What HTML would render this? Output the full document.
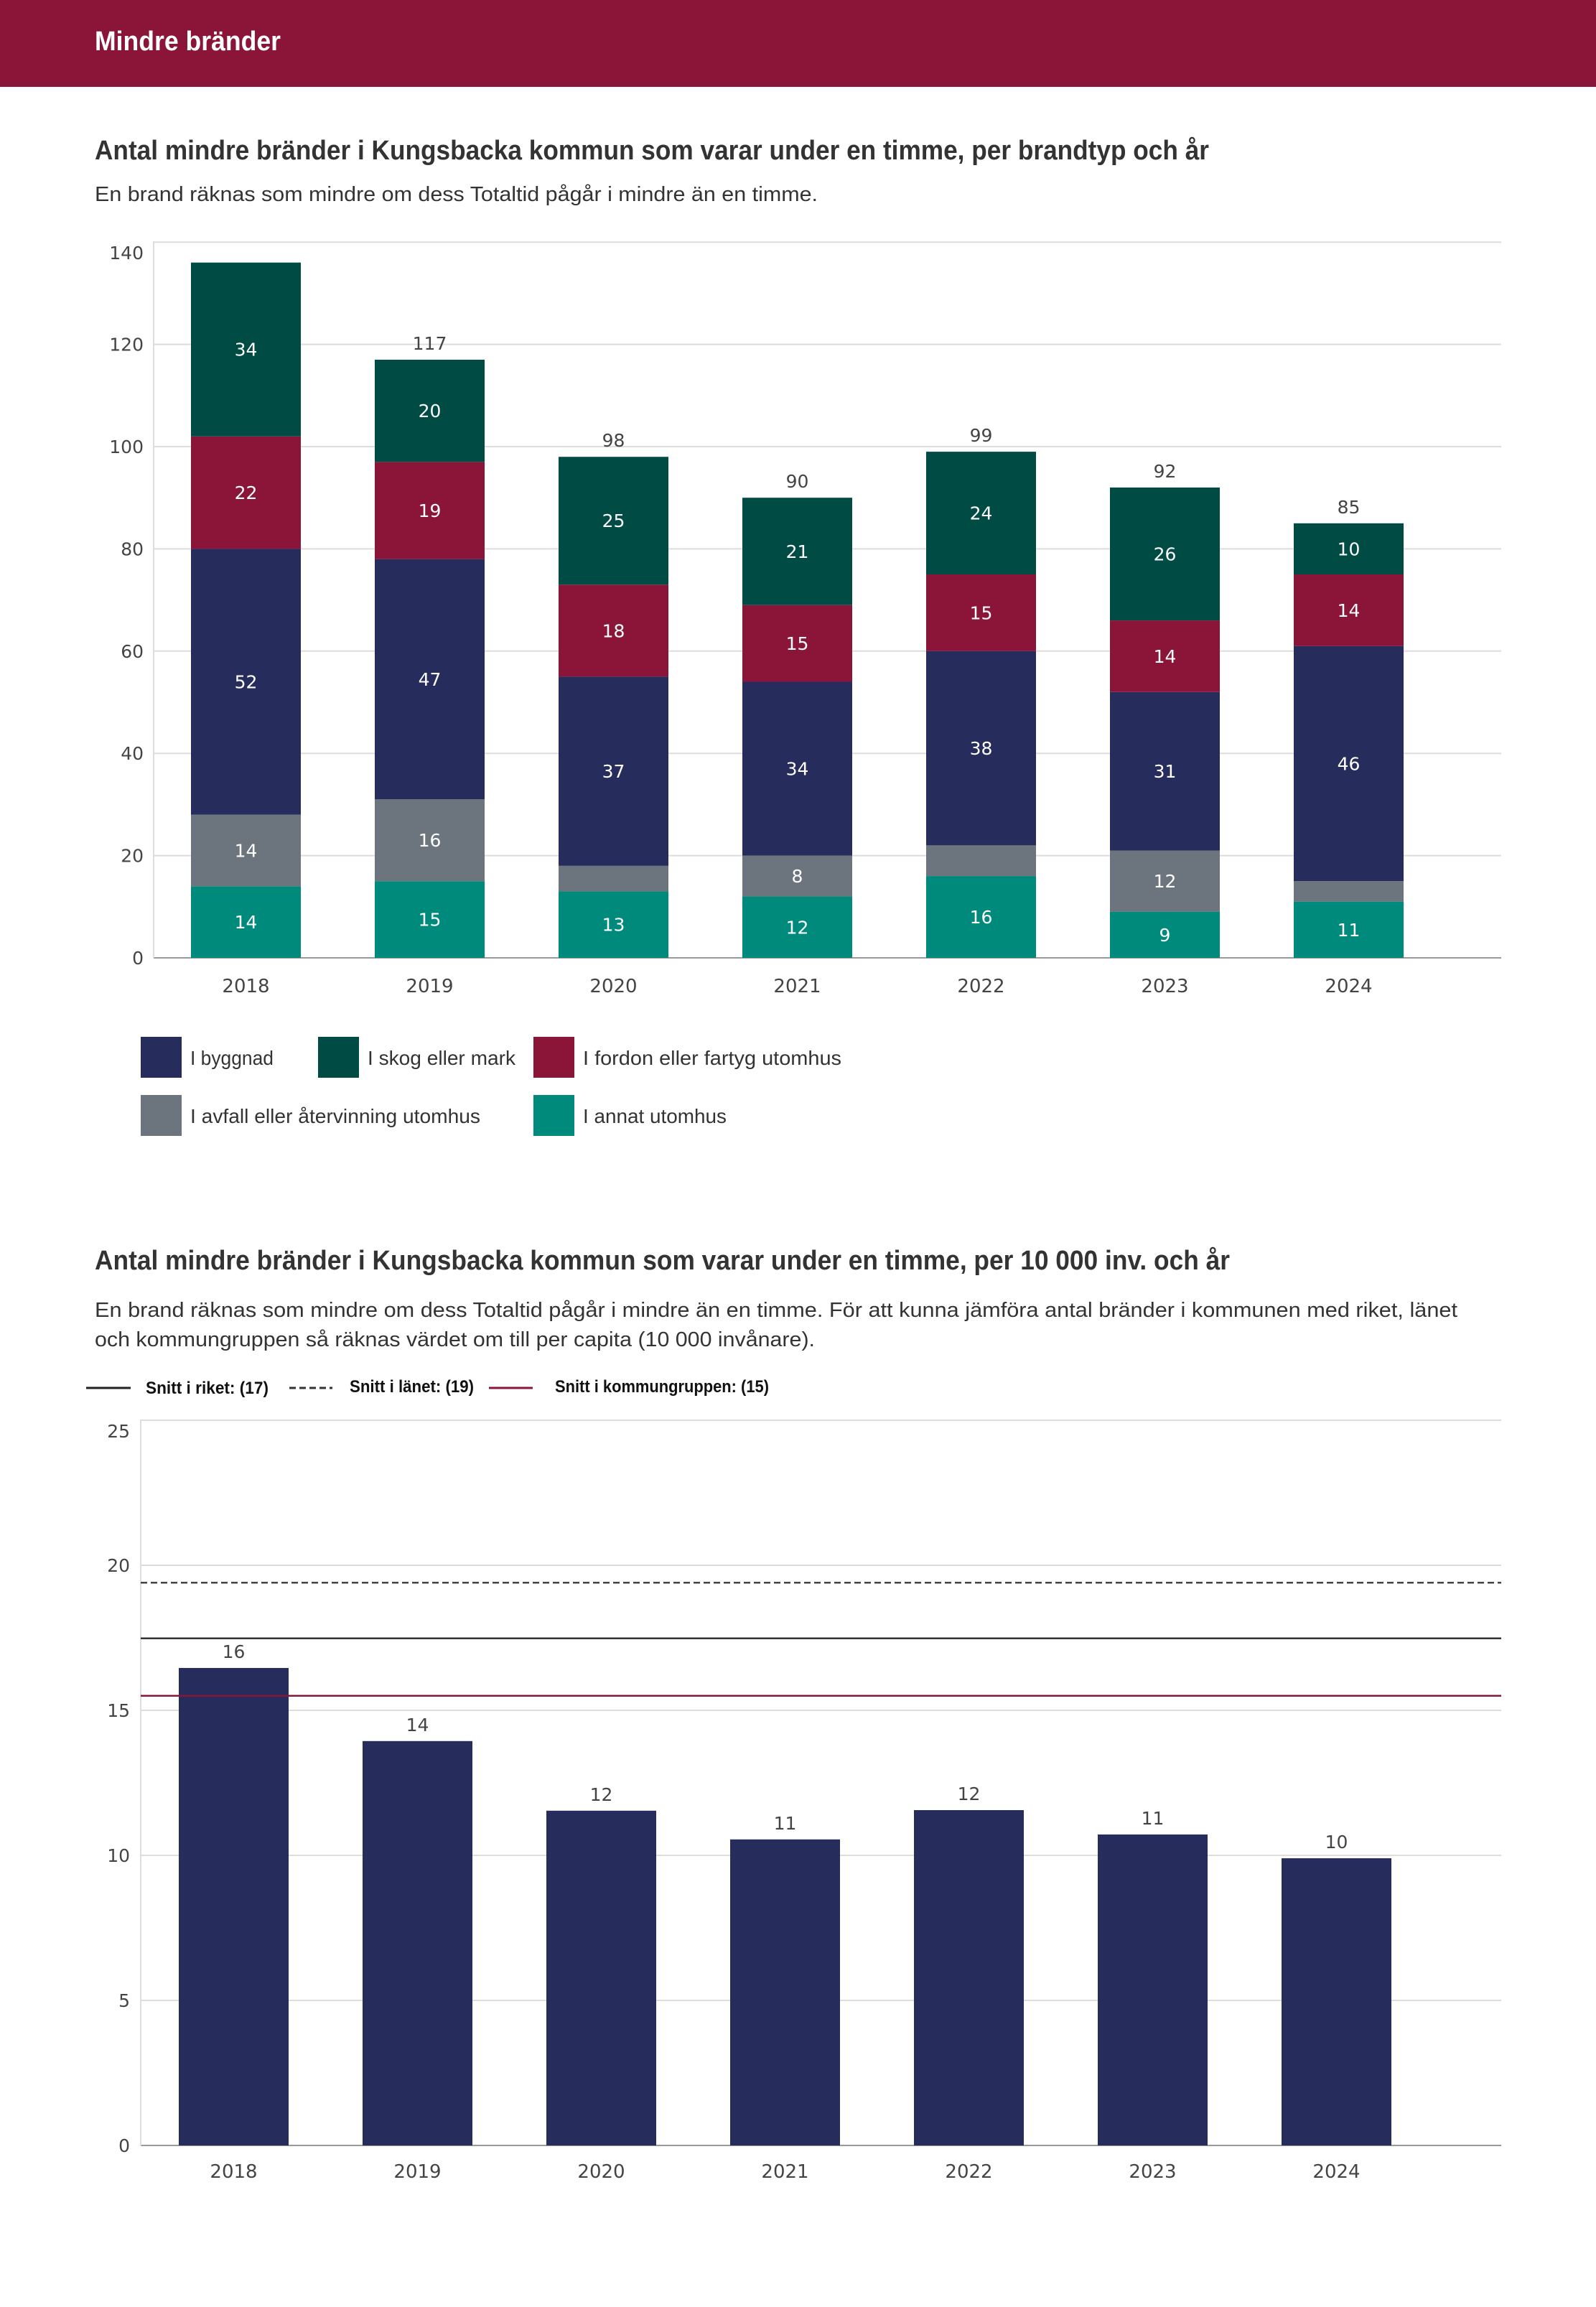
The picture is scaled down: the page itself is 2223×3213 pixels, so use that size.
<!DOCTYPE html>
<html><head><meta charset="utf-8"><style>
html,body{margin:0;padding:0;background:#fff;}
svg{display:block;}
</style></head><body>
<svg id="page" width="2223" height="3213" viewBox="0 0 2223 3213" xmlns="http://www.w3.org/2000/svg">
<rect x="0" y="0" width="2223" height="121" fill="#8b1538"/>
<text x="132" y="70" fill="#fff" font-family="Liberation Sans, sans-serif" font-weight="bold" font-size="38" textLength="259" lengthAdjust="spacingAndGlyphs">Mindre bränder</text>

<text x="132" y="222" fill="#333" font-family="Liberation Sans, sans-serif" font-weight="bold" font-size="38" textLength="1552" lengthAdjust="spacingAndGlyphs">Antal mindre bränder i Kungsbacka kommun som varar under en timme, per brandtyp och år</text>
<text x="132" y="280" fill="#333" font-family="Liberation Sans, sans-serif" font-size="29" textLength="1007" lengthAdjust="spacingAndGlyphs">En brand räknas som mindre om dess Totaltid pågår i mindre än en timme.</text>
<g id="chart1"></g>
<g id="legend1"></g>

<text x="132" y="1768" fill="#333" font-family="Liberation Sans, sans-serif" font-weight="bold" font-size="38" textLength="1581" lengthAdjust="spacingAndGlyphs">Antal mindre bränder i Kungsbacka kommun som varar under en timme, per 10 000 inv. och år</text>
<text x="132" y="1834" fill="#333" font-family="Liberation Sans, sans-serif" font-size="29" textLength="1898" lengthAdjust="spacingAndGlyphs">En brand räknas som mindre om dess Totaltid pågår i mindre än en timme. För att kunna jämföra antal bränder i kommunen med riket, länet</text>
<text x="132" y="1875" fill="#333" font-family="Liberation Sans, sans-serif" font-size="29" textLength="1003" lengthAdjust="spacingAndGlyphs">och kommungruppen så räknas värdet om till per capita (10 000 invånare).</text>
<g id="legend2">
  <line x1="120" y1="1933" x2="182" y2="1933" stroke="#222" stroke-width="3"/>
  <text x="203" y="1941" font-family="Liberation Sans, sans-serif" font-weight="bold" font-size="24" fill="#111" textLength="171" lengthAdjust="spacingAndGlyphs">Snitt i riket: (17)</text>
  <line x1="403" y1="1933" x2="463" y2="1933" stroke="#333" stroke-width="3" stroke-dasharray="9,5"/>
  <text x="487" y="1939" font-family="Liberation Sans, sans-serif" font-weight="bold" font-size="24" fill="#111" textLength="173" lengthAdjust="spacingAndGlyphs">Snitt i länet: (19)</text>
  <line x1="681" y1="1933" x2="742" y2="1933" stroke="#8b1538" stroke-width="3"/>
  <text x="773" y="1939" font-family="Liberation Sans, sans-serif" font-weight="bold" font-size="24" fill="#111" textLength="298" lengthAdjust="spacingAndGlyphs">Snitt i kommungruppen: (15)</text>
</g>
<g id="chart2"></g>
</svg>
<script>
const years = ["2018","2019","2020","2021","2022","2023","2024"];
const annatUtomhus = [14,15,13,12,16,9,11];
const avfall = [14,16,5,8,6,12,4];
const byggnad = [52,47,37,34,38,31,46];
const fordon = [22,19,18,15,15,14,14];
const skog = [34,20,25,21,24,26,10];
const totals = [136,117,98,90,99,92,85];
const yTicks1 = [0,20,40,60,80,100,120,140];

const perCapita = [16.46,13.94,11.54,10.55,11.56,10.72,9.9];
const perCapitaLabels = ["16","14","12","11","12","11","10"];
const yTicks2 = [0,5,10,15,20,25];
const avgRiket = 17.48;
const avgLanet = 19.4;
const avgGrupp = 15.5;

const NS = "http://www.w3.org/2000/svg";
function mk(tag, attrs, parent, txt){
  const e = document.createElementNS(NS, tag);
  for (const k in attrs) e.setAttribute(k, attrs[k]);
  if (txt !== undefined) e.textContent = txt;
  parent.appendChild(e);
  return e;
}
const NUMF = "DejaVu Sans, Liberation Sans, sans-serif";

// ---------- Chart 1 ----------
const c1 = document.getElementById("chart1");
const y1 = v => 1334 - v * 7.12;
const x1 = i => 266 + i * 256;
const BW = 153;
yTicks1.forEach(t => {
  const g = mk("line", {x1:214, x2:2091, y1:y1(t), y2:y1(t), stroke: t===0 ? "#999" : "#ddd", "stroke-width": 2}, c1);
  
  
  const ty = t === 140 ? y1(t) + 24 : y1(t) + 9;
  const l = mk("text", {x:200, y:ty, "text-anchor":"end", "font-family":NUMF, "font-size":25, fill:"#444"}, c1, String(t));
  
  
});
const ax1 = mk("line", {x1:214, x2:214, y1:336, y2:1334, stroke:"#ddd", "stroke-width":2}, c1);


const series = [
  {vals: annatUtomhus, color:"#008a7b", name:"annat-utomhus"},
  {vals: avfall, color:"#6c757d", name:"avfall"},
  {vals: byggnad, color:"#262d5c", name:"byggnad"},
  {vals: fordon, color:"#8b1538", name:"fordon"},
  {vals: skog, color:"#004b43", name:"skog"}
];
years.forEach((yr, i) => {
  let base = 0;
  series.forEach(s => {
    const v = s.vals[i];
    const r = mk("rect", {x:x1(i), y:y1(base+v), width:BW, height:v*7.12, fill:s.color}, c1);
    
    
    if (v >= 7) {
      const t = mk("text", {x:x1(i)+BW/2, y:y1(base+v/2)+9, "text-anchor":"middle", "font-family":NUMF, "font-size":25, fill:"#fff"}, c1, String(v));
      
      
    }
    base += v;
  });
  if (i > 0) {
    const tt = mk("text", {x:x1(i)+BW/2, y:y1(totals[i])-14, "text-anchor":"middle", "font-family":NUMF, "font-size":25, fill:"#444"}, c1, String(totals[i]));
    
    
  }
  const yl = mk("text", {x:x1(i)+BW/2, y:1382, "text-anchor":"middle", "font-family":NUMF, "font-size":26, fill:"#444"}, c1, yr);
  
  
});

// ---------- Legend 1 ----------
const lg1 = document.getElementById("legend1");
const legendItems = [
  {x:196, y:1444, color:"#262d5c", label:"I byggnad", w:116},
  {x:443, y:1444, color:"#004b43", label:"I skog eller mark", w:206},
  {x:743, y:1444, color:"#8b1538", label:"I fordon eller fartyg utomhus", w:360},
  {x:196, y:1525, color:"#6c757d", label:"I avfall eller återvinning utomhus", w:404},
  {x:743, y:1525, color:"#008a7b", label:"I annat utomhus", w:200}
];
legendItems.forEach(it => {
  const r = mk("rect", {x:it.x, y:it.y, width:57, height:57, fill:it.color}, lg1);
  
  
  const t = mk("text", {x:it.x+69, y:it.y+39, "font-family":"Liberation Sans, sans-serif", "font-size":28, fill:"#333", textLength:it.w, lengthAdjust:"spacingAndGlyphs"}, lg1, it.label);
  
  
});

// ---------- Chart 2 ----------
const c2 = document.getElementById("chart2");
const y2 = v => 2988 - v * 40.4;
const x2 = i => 249 + i * 256;
yTicks2.forEach(t => {
  const g = mk("line", {x1:196, x2:2091, y1:y2(t), y2:y2(t), stroke: t===0 ? "#999" : "#ddd", "stroke-width": 2}, c2);
  
  
  const ty = t === 25 ? y2(t) + 24 : y2(t) + 9;
  const l = mk("text", {x:181, y:ty, "text-anchor":"end", "font-family":NUMF, "font-size":25, fill:"#444"}, c2, String(t));
  
  
});
const ax2 = mk("line", {x1:196, x2:196, y1:1977, y2:2988, stroke:"#ddd", "stroke-width":2}, c2);


years.forEach((yr, i) => {
  const v = perCapita[i];
  const r = mk("rect", {x:x2(i), y:y2(v), width:153, height:v*40.4, fill:"#262d5c"}, c2);
  
  
  const t = mk("text", {x:x2(i)+76.5, y:y2(v)-14, "text-anchor":"middle", "font-family":NUMF, "font-size":25, fill:"#444"}, c2, perCapitaLabels[i]);
  
  
  const yl = mk("text", {x:x2(i)+76.5, y:3033, "text-anchor":"middle", "font-family":NUMF, "font-size":26, fill:"#444"}, c2, yr);
  
  
});
const lL = mk("line", {x1:196, x2:2091, y1:y2(avgLanet), y2:y2(avgLanet), stroke:"#444", "stroke-width":2.5, "stroke-dasharray":"9,5"}, c2);


const lR = mk("line", {x1:196, x2:2091, y1:y2(avgRiket), y2:y2(avgRiket), stroke:"#333", "stroke-width":2.5}, c2);


const lG = mk("line", {x1:196, x2:2091, y1:y2(avgGrupp), y2:y2(avgGrupp), stroke:"#8b1538", "stroke-width":2.5}, c2);


</script>
</body></html>
